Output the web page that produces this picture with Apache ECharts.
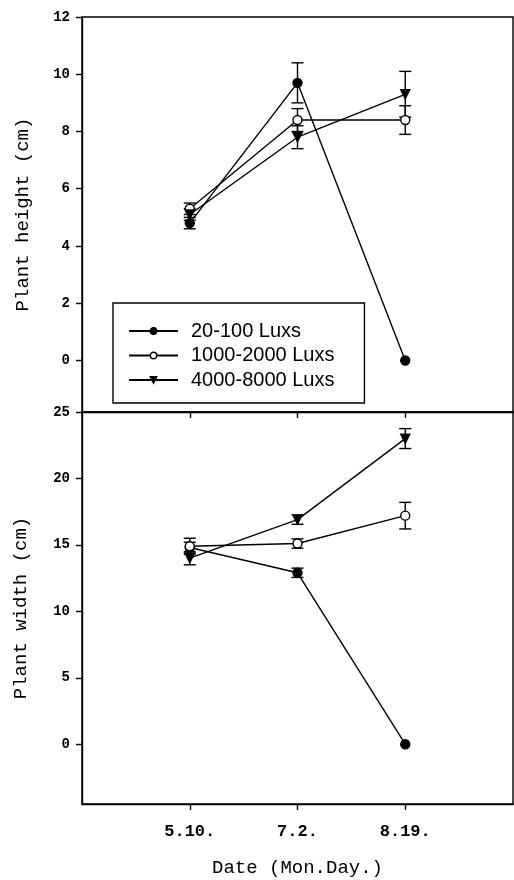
<!DOCTYPE html>
<html>
<head>
<meta charset="utf-8">
<script src="https://cdn.jsdelivr.net/npm/echarts@6/dist/echarts.min.js"></script>
<style>
  html, body { margin: 0; padding: 0; background: #fff; }
  #chart { width: 514px; height: 880px; }
</style>
</head>
<body>
<div id="chart"></div>
<script>
const dates = ['5.10.', '7.2.', '8.19.']
const seriesNames = ['20-100 Luxs', '1000-2000 Luxs', '4000-8000 Luxs']

// plant height (cm), means and error
const heightLow = [4.8, 9.7, 0]
const heightMid = [5.3, 8.4, 8.4]
const heightHigh = [5.1, 7.8, 9.3]
const heightLowErr = [0.2, 0.7, 0]
const heightMidErr = [0.2, 0.4, 0.5]
const heightHighErr = [0.2, 0.4, 0.8]

// plant width (cm), means and error
const widthLow = [14.8, 12.9, 0]
const widthMid = [14.9, 15.1, 17.2]
const widthHigh = [14.0, 16.9, 23.0]
const widthLowErr = [0.4, 0.35, 0]
const widthMidErr = [0.6, 0.35, 1.0]
const widthHighErr = [0.5, 0.35, 0.75]

const dateTicks = [1, 2, 3]
const heightTicks = [0, 2, 4, 6, 8, 10, 12]
const widthTicks = [0, 5, 10, 15, 20, 25]

const monoFont = '"Liberation Mono", "DejaVu Sans Mono", monospace'
const lineW = 1.4

// styles per treatment: filled circle, open circle, down triangle
const markers = [
  { symbol: 'circle', symbolRotate: 0, fill: '#000' },
  { symbol: 'circle', symbolRotate: 0, fill: '#fff' },
  { symbol: 'triangle', symbolRotate: 180, fill: '#000' },
]

function toPoints(values, errs) {
  return values.map((v, i) => [dateTicks[i], v, errs ? errs[i] : 0])
}

function errorBarItem(params, api) {
  const x = api.value(0)
  const y = api.value(1)
  const e = api.value(2)
  if (!e) return null
  const top = api.coord([x, y + e])
  const bot = api.coord([x, y - e])
  const w = 6
  const style = { stroke: '#000', lineWidth: lineW }
  return {
    type: 'group',
    children: [
      { type: 'line', shape: { x1: top[0], y1: top[1], x2: bot[0], y2: bot[1] }, style },
      { type: 'line', shape: { x1: top[0] - w, y1: top[1], x2: top[0] + w, y2: top[1] }, style },
      { type: 'line', shape: { x1: bot[0] - w, y1: bot[1], x2: bot[0] + w, y2: bot[1] }, style },
    ],
  }
}

function lineSeries(name, idx, values, axis) {
  const m = markers[idx]
  return {
    name,
    type: 'line',
    xAxisIndex: axis,
    yAxisIndex: axis,
    data: toPoints(values),
    symbol: m.symbol,
    symbolRotate: m.symbolRotate,
    symbolSize: 9,
    lineStyle: { color: '#000', width: lineW },
    itemStyle: { color: m.fill, borderColor: '#000', borderWidth: lineW },
    z: 3,
    animation: false,
  }
}

function errSeries(values, errs, axis) {
  return {
    type: 'custom',
    name: 'err',
    xAxisIndex: axis,
    yAxisIndex: axis,
    data: toPoints(values, errs),
    renderItem: errorBarItem,
    encode: { x: 0, y: 1 },
    z: 2,
    animation: false,
  }
}

function xAxisFor(gridIndex, showLabels) {
  return {
    type: 'value',
    gridIndex,
    min: 0,
    max: 4,
    axisLine: { show: true, onZero: false, lineStyle: { color: '#000', width: lineW } },
    axisTick: { show: true, customValues: dateTicks, length: 6, lineStyle: { color: '#000', width: lineW } },
    axisLabel: {
      show: showLabels,
      customValues: dateTicks,
      formatter: (v) => dates[v - 1],
      margin: 19,
      color: '#000',
      fontFamily: monoFont,
      fontWeight: 'bold',
      fontSize: 17,
    },
    splitLine: { show: false },
    name: showLabels ? 'Date (Mon.Day.)' : '',
    nameLocation: 'middle',
    nameGap: 54,
    nameTextStyle: { color: '#000', fontFamily: monoFont, fontSize: 19 },
  }
}

function yAxisFor(gridIndex, min, max, ticks, name, gap) {
  return {
    type: 'value',
    gridIndex,
    min,
    max,
    axisLine: { show: true, onZero: false, lineStyle: { color: '#000', width: lineW } },
    axisTick: { show: true, customValues: ticks, length: 6, lineStyle: { color: '#000', width: lineW } },
    axisLabel: {
      customValues: ticks,
      margin: 12,
      color: '#000',
      fontFamily: monoFont,
      fontWeight: 'bold',
      fontSize: 14,
    },
    splitLine: { show: false },
    name,
    nameLocation: 'middle',
    nameGap: gap,
    nameTextStyle: { color: '#000', fontFamily: monoFont, fontSize: 19 },
  }
}

const chart = echarts.init(document.getElementById('chart'), null, { renderer: 'canvas' })

chart.setOption({
  backgroundColor: '#fff',
  animation: false,
  grid: [
    { left: 82, top: 17, right: 1, height: 395, show: true, borderColor: '#000', borderWidth: lineW, containLabel: false, outerBoundsMode: 'none' },
    { left: 82, top: 412, right: 1, height: 392, show: true, borderColor: '#000', borderWidth: lineW, containLabel: false, outerBoundsMode: 'none' },
  ],
  legend: {
    data: seriesNames,
    orient: 'vertical',
    left: 113,
    top: 303,
    padding: [18, 30, 13, 15],
    itemWidth: 49,
    itemHeight: 8,
    itemGap: 4.5,
    itemStyle: { borderColor: '#000', borderWidth: lineW },
    backgroundColor: '#fff',
    borderColor: '#000',
    borderWidth: lineW,
    textStyle: { color: '#000', fontFamily: '"Liberation Sans", Arial, sans-serif', fontSize: 20, lineHeight: 20, padding: [0, 0, 0, 8] },
    z: 10,
  },
  xAxis: [xAxisFor(0, false), xAxisFor(1, true)],
  yAxis: [
    yAxisFor(0, -1.8, 12, heightTicks, 'Plant height (cm)', 50),
    yAxisFor(1, -4.5, 25, widthTicks, 'Plant width (cm)', 52),
  ],
  series: [
    errSeries(heightLow, heightLowErr, 0),
    errSeries(heightMid, heightMidErr, 0),
    errSeries(heightHigh, heightHighErr, 0),
    lineSeries(seriesNames[0], 0, heightLow, 0),
    lineSeries(seriesNames[1], 1, heightMid, 0),
    lineSeries(seriesNames[2], 2, heightHigh, 0),
    errSeries(widthLow, widthLowErr, 1),
    errSeries(widthMid, widthMidErr, 1),
    errSeries(widthHigh, widthHighErr, 1),
    lineSeries(seriesNames[0], 0, widthLow, 1),
    lineSeries(seriesNames[1], 1, widthMid, 1),
    lineSeries(seriesNames[2], 2, widthHigh, 1),
  ],
})

window.addEventListener('resize', () => chart.resize())
</script>
</body>
</html>
